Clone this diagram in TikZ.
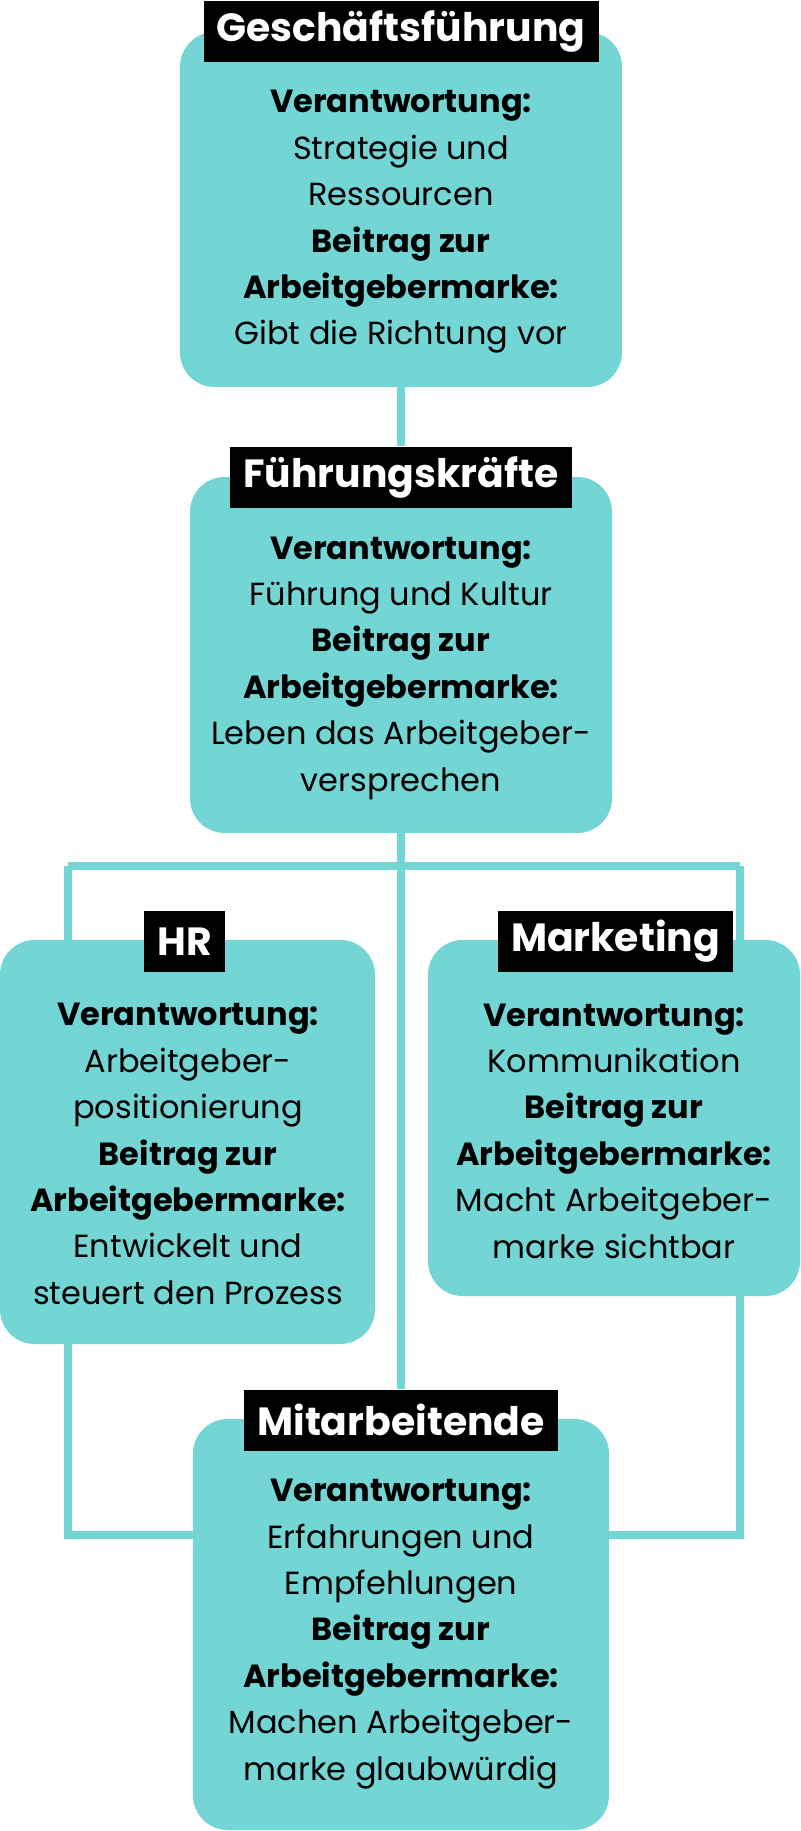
\documentclass[tikz,border=0pt]{standalone}
\usepackage{fontspec}
\setmainfont{Poppins}
\definecolor{teal1}{RGB}{115,213,212}
\def\u{0.75pt}
\pgfdeclarelayer{paper}
\pgfdeclarelayer{background}
\pgfsetlayers{paper,background,main}
\tikzset{
  card/.style={fill=teal1, draw=none, rounded corners=26pt, inner sep=0pt},
  tag/.style={fill=black, text=white, font=\fontsize{29.5}{32}\selectfont\bfseries, minimum height=61*\u, inner xsep=13*\u, inner ysep=0pt},
  body/.style={align=center, font=\fontsize{24}{34.8}\selectfont, inner sep=0pt},
  conn/.style={draw=teal1, line width=8*\u}
}
\begin{document}
\begin{tikzpicture}[x=0.75pt,y=-0.75pt]
\begin{pgfonlayer}{paper}
\useasboundingbox[fill=white] (0,0) rectangle (800,1831);
\end{pgfonlayer}
% cards
\node[card, minimum width=442*\u, minimum height=355*\u] (b1) at (401,209.5) {};
\node[card, minimum width=422*\u, minimum height=356*\u] (b2) at (401,655) {};
\node[card, minimum width=375*\u, minimum height=404*\u] (b3) at (187.5,1142) {};
\node[card, minimum width=372*\u, minimum height=356*\u] (b4) at (614,1118) {};
\node[card, minimum width=416*\u, minimum height=411*\u] (b5) at (401,1624.5) {};
% texts
\node[body] (t1) at (401,222) {\textbf{Verantwortung:}\\Strategie und\\Ressourcen\\\textbf{Beitrag zur}\\\textbf{Arbeitgebermarke:}\\Gibt die Richtung vor};
\node[body] (t2) at (401,668) {\textbf{Verantwortung:}\\Führung und Kultur\\\textbf{Beitrag zur}\\\textbf{Arbeitgebermarke:}\\Leben das Arbeitgeber-\\versprechen};
\node[body] (t3) at (188,1154) {\textbf{Verantwortung:}\\Arbeitgeber-\\positionierung\\\textbf{Beitrag zur}\\\textbf{Arbeitgebermarke:}\\Entwickelt und\\steuert den Prozess};
\node[body] (t4) at (614,1131) {\textbf{Verantwortung:}\\Kommunikation\\\textbf{Beitrag zur}\\\textbf{Arbeitgebermarke:}\\Macht Arbeitgeber-\\marke sichtbar};
\node[body] (t5) at (401,1634) {\textbf{Verantwortung:}\\Erfahrungen und\\Empfehlungen\\\textbf{Beitrag zur}\\\textbf{Arbeitgebermarke:}\\Machen Arbeitgeber-\\marke glaubwürdig};
% tags
\node[tag] (l1) at (401,31.5) {Geschäftsführung};
\node[tag] (l2) at (401,477) {Führungskräfte};
\node[tag] (l3) at (184.5,941.5) {HR};
\node[tag] (l4) at (615.5,941.5) {Marketing};
\node[tag] (l5) at (401,1420) {Mitarbeitende};
% connectors
\coordinate (jL) at (68,866);
\coordinate (jR) at (740,866);
\coordinate (bL) at (68,1535);
\coordinate (bR) at (740,1535);
\begin{pgfonlayer}{background}
\draw[conn] (b1.south) -- (l2.north);
\draw[conn] (b2.south) -- (l5.north);
\draw[conn] (jL) -- (jR);
\draw[conn] (jL) -- (bL) -- (bL -| b5.west);
\draw[conn] (jR) -- (bR) -- (bR -| b5.east);
\end{pgfonlayer}
\end{tikzpicture}
\end{document}
